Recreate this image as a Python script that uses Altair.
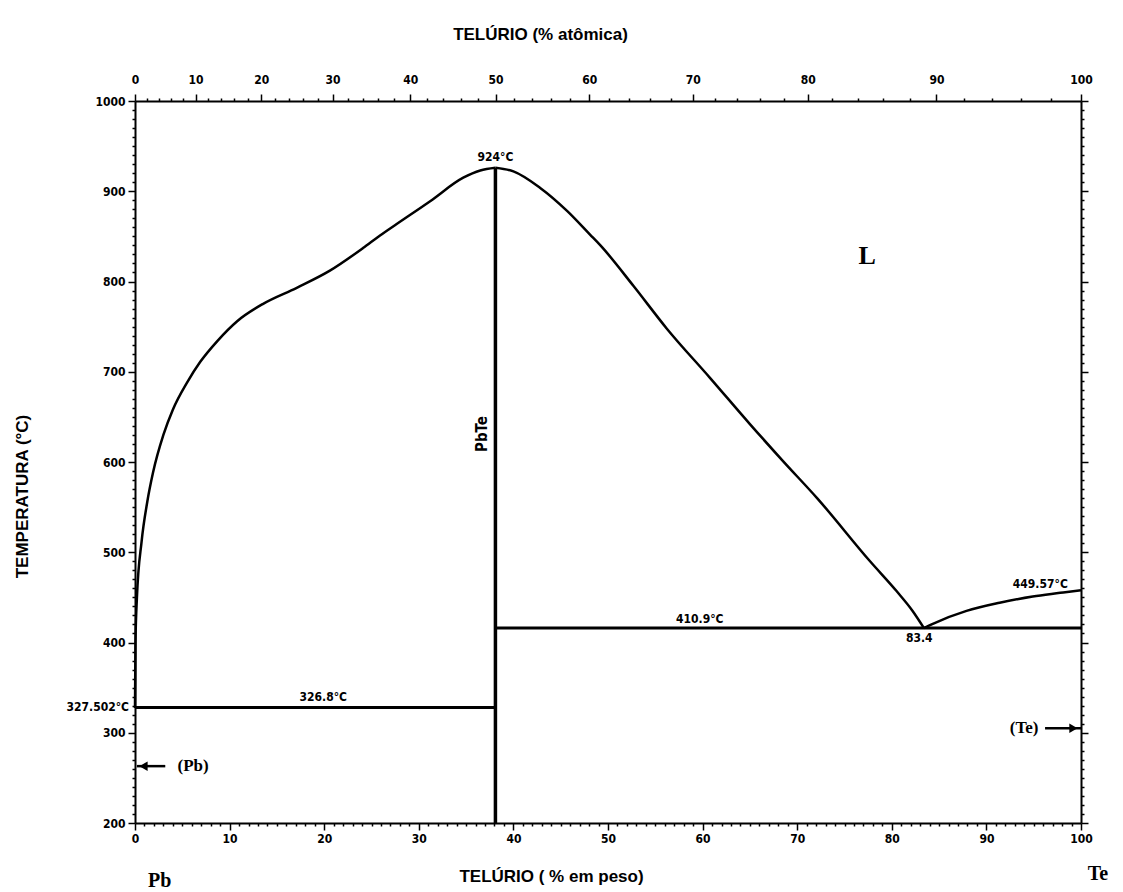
import altair as alt
import pandas as pd

# ---------------- data ----------------
# liquidus Pb side -> PbTe (wt% Te, degC)
left_wt = [0.0, 0.05, 0.2, 0.7, 1.3, 1.9, 3.0, 4.0, 5.5, 6.9, 8.7, 10.8, 13.5, 17.1, 20.6, 24.1, 25.9, 27.7, 31.2, 34.7, 36.5, 38.1]
left_T = [327.5, 400, 449, 512, 556, 588, 630, 658, 688, 711, 734, 756, 775, 793, 812, 837, 851, 864, 889, 915, 923, 926]
# liquidus PbTe -> eutectic
right_wt = [38.1, 40.0, 42.8, 45.7, 48.1, 49.2, 52.7, 56.2, 60.8, 65.0, 68.5, 72.1, 77.7, 80.5, 82.2, 83.4]
right_T = [926, 922, 904, 878, 852, 840, 795, 748, 693, 642, 601, 560, 490, 457, 435, 416]
# liquidus eutectic -> Te
te_wt = [83.4, 84.4, 87.9, 91.4, 94.9, 97.8, 100.0]
te_T = [416, 421, 435, 444, 451, 455, 458]

# invariant lines
mono_T = 328        # 326.8 degC line
eut_T = 416         # 410.9 degC line
pbte_wt = 38.1
pbte_top = 926

# axis ticks
wt_ticks = list(range(0, 101, 1))
temp_ticks = list(range(200, 1001, 10))
at_ticks = list(range(0, 101, 2))
M_TE, M_PB = 127.6, 207.2
at_positions = [a * M_TE / (a * M_TE + (100 - a) * M_PB) * 100 for a in at_ticks]

AT_EXPR = "round(100*(datum.value/127.6)/((datum.value/127.6)+((100-datum.value)/207.2)))"

# annotation texts
small_labels = ["924°C", "326.8°C", "410.9°C", "83.4", "449.57°C"]
small_x = [38.1, 19.9, 59.7, 82.9, 95.7]
small_y = [938, 340, 426, 405, 465]

W, H = 946, 722
xs = alt.Scale(domain=[0, 100], nice=False, zero=False)
ys = alt.Scale(domain=[200, 1000], nice=False, zero=False)

TITLE_FONT = "Liberation Sans"
LABEL_FONT = "DejaVu Sans Condensed, DejaVu Sans"
SERIF = "Liberation Serif"

common_axis = dict(
    grid=False, domainColor="black", domainWidth=2, tickColor="black", tickWidth=1.5,
    labelFont=LABEL_FONT, labelFontWeight="bold", labelFontSize=12, labelColor="black",
    labelOverlap=False, labelFlush=False, titleFont=TITLE_FONT, titleFontWeight="bold",
    titleFontSize=17, titleColor="black",
)

ax_bottom = alt.Axis(
    orient="bottom", values=wt_ticks, labelExpr="datum.value % 10 === 0 ? datum.label : ''",
    tickSize={"condition": {"test": "datum.value % 10 === 0", "value": 7}, "value": 3},
    title="TELÚRIO ( % em peso)", labelPadding=3, titlePadding=24, titleX=416, **common_axis)
ax_left = alt.Axis(
    orient="left", values=temp_ticks, format="d",
    labelExpr="datum.value % 100 === 0 ? datum.label : ''",
    tickSize={"condition": {"test": "datum.value % 100 === 0", "value": 7}, "value": 3},
    title="TEMPERATURA (°C)", labelPadding=3, titlePadding=63, titleY=395, **common_axis)
ax_top = alt.Axis(
    orient="top", values=at_positions,
    labelExpr=f"{AT_EXPR} % 10 === 0 ? toString({AT_EXPR}) : ''",
    tickSize={"condition": {"test": f"{AT_EXPR} % 10 === 0", "value": 7}, "value": 3},
    title="TELÚRIO (% atômica)", labelPadding=8, titlePadding=30, titleX=405, **common_axis)
ax_right = alt.Axis(
    orient="right", values=temp_ticks, labels=False,
    tickSize={"condition": {"test": "datum.value % 100 === 0", "value": 7}, "value": 3},
    title=None, **common_axis)

# ---------------- tables ----------------
curves = pd.DataFrame({
    "wt": left_wt + right_wt + te_wt,
    "T": left_T + right_T + te_T,
    "seg": ["a"] * len(left_wt) + ["b"] * len(right_wt) + ["c"] * len(te_wt),
    "o": list(range(len(left_wt))) + list(range(len(right_wt))) + list(range(len(te_wt))),
})

hlines = pd.DataFrame({"x": [0, pbte_wt], "x2": [pbte_wt, 100], "y": [mono_T, eut_T]})
vline = pd.DataFrame({"x": [pbte_wt], "y": [200], "y2": [pbte_top]})

curve_layer = alt.Chart(curves).mark_line(color="black", strokeWidth=2.5, interpolate="monotone").encode(
    x=alt.X("wt:Q", scale=xs, axis=ax_bottom),
    y=alt.Y("T:Q", scale=ys, axis=ax_left),
    detail="seg:N", order="o:Q")

vline_layer = alt.Chart(vline).mark_rule(color="black", strokeWidth=3.5).encode(
    x=alt.X("x:Q", scale=xs, axis=ax_top),
    y=alt.Y("y:Q", scale=ys, axis=ax_right), y2="y2:Q")

hline_layer = alt.Chart(hlines).mark_rule(color="black", strokeWidth=3).encode(
    x=alt.X("x:Q", scale=xs, axis=None), x2="x2:Q",
    y=alt.Y("y:Q", scale=ys, axis=None))

def txt(df, **kw):
    return alt.Chart(df).mark_text(color="black", **kw).encode(
        x=alt.X("x:Q", scale=xs, axis=None),
        y=alt.Y("y:Q", scale=ys, axis=None),
        text="t:N")

small_df = pd.DataFrame({"x": small_x, "y": small_y, "t": small_labels})
small_layer = txt(small_df, font=LABEL_FONT, fontWeight="bold", fontSize=12)

left_lbl = txt(pd.DataFrame({"x": [0], "y": [329], "t": ["327.502°C"]}),
               font=LABEL_FONT, fontWeight="bold", fontSize=12, align="right", dx=-6)

pbte_lbl = txt(pd.DataFrame({"x": [36.7], "y": [631], "t": ["PbTe"]}),
               font=LABEL_FONT, fontWeight="bold", fontSize=15, angle=270)

l_lbl = txt(pd.DataFrame({"x": [77.4], "y": [828], "t": ["L"]}),
            font=SERIF, fontWeight="bold", fontSize=26)

pb_phase = txt(pd.DataFrame({"x": [4.5], "y": [263], "t": ["(Pb)"]}),
               font=SERIF, fontWeight="bold", fontSize=17, align="left")
te_phase = txt(pd.DataFrame({"x": [95.5], "y": [305], "t": ["(Te)"]}),
               font=SERIF, fontWeight="bold", fontSize=17, align="right")

elem_lbl = txt(pd.DataFrame({"x": [2.6, 101.8], "y": [136, 143], "t": ["Pb", "Te"]}),
               font=SERIF, fontWeight="bold", fontSize=20)

arrows = pd.DataFrame({"x": [0.2, 96.2], "x2": [3.2, 100], "y": [263, 305]})
arrow_lines = alt.Chart(arrows).mark_rule(color="black", strokeWidth=2.5).encode(
    x=alt.X("x:Q", scale=xs, axis=None), x2="x2:Q",
    y=alt.Y("y:Q", scale=ys, axis=None))
heads = pd.DataFrame({"x": [0.9, 99.2], "y": [263, 305], "s": ["triangle-left", "triangle-right"]})
arrow_heads = alt.Chart(heads).mark_point(filled=True, color="black", size=90, opacity=1).encode(
    x=alt.X("x:Q", scale=xs, axis=None),
    y=alt.Y("y:Q", scale=ys, axis=None),
    shape=alt.Shape("s:N", scale=None, legend=None))

chart = alt.layer(
    curve_layer, vline_layer, hline_layer, small_layer, left_lbl, pbte_lbl, l_lbl,
    pb_phase, te_phase, elem_lbl, arrow_lines, arrow_heads,
).resolve_axis(x="independent", y="independent").properties(
    width=W, height=H, padding={"left": 5, "top": 17, "right": 5, "bottom": 5},
    background="white",
).configure_view(stroke=None)

chart.save("out.html", embed_options={"renderer": "svg", "actions": False})
